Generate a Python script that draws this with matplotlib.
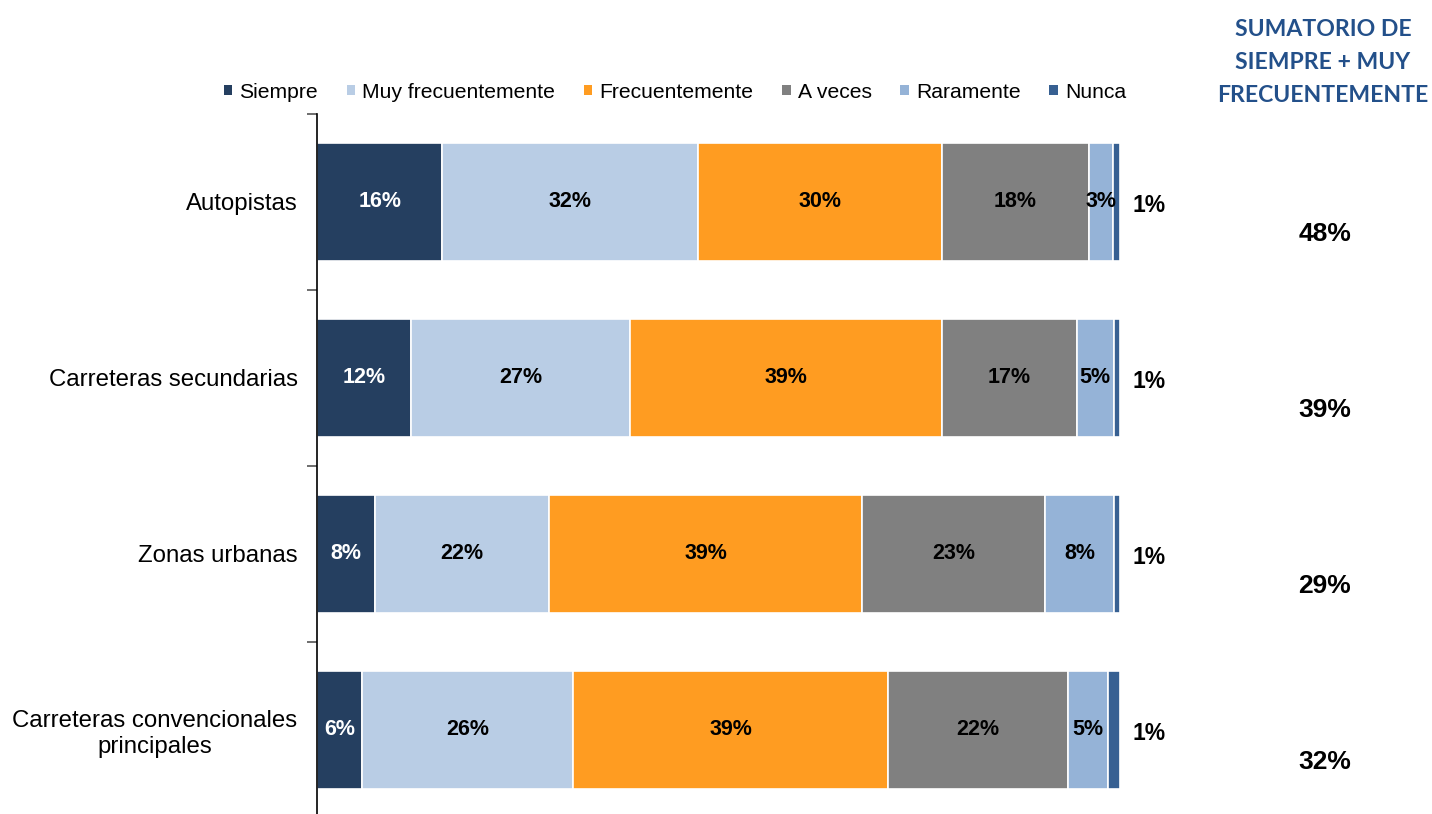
import matplotlib
matplotlib.use("Agg")
import matplotlib.pyplot as plt
from matplotlib.patches import Patch
from matplotlib import font_manager
import numpy as np

categories = ["Autopistas", "Carreteras secundarias", "Zonas urbanas",
              "Carreteras convencionales\nprincipales"]
series_names = ["Siempre", "Muy frecuentemente", "Frecuentemente", "A veces", "Raramente", "Nunca"]
siempre = [15.6, 11.7, 7.2, 5.6]
muy_frecuentemente = [31.8, 27.3, 21.7, 26.3]
frecuentemente = [30.4, 38.8, 39.0, 39.2]
a_veces = [18.3, 16.8, 22.8, 22.4]
raramente = [3.0, 4.6, 8.5, 5.0]
nunca = [0.9, 0.8, 0.8, 1.5]
siempre_lbl = [16, 12, 8, 6]
muy_frecuentemente_lbl = [32, 27, 22, 26]
frecuentemente_lbl = [30, 39, 39, 39]
a_veces_lbl = [18, 17, 23, 22]
raramente_lbl = [3, 5, 8, 5]
nunca_lbl = [1, 1, 1, 1]
sumatorio = [48, 39, 29, 32]

colors = ["#253F60", "#B9CDE5", "#FF9C21", "#808080", "#95B3D7", "#376092"]
values = [siempre, muy_frecuentemente, frecuentemente, a_veces, raramente, nunca]
labels = [siempre_lbl, muy_frecuentemente_lbl, frecuentemente_lbl, a_veces_lbl, raramente_lbl, nunca_lbl]

installed = {f.name for f in font_manager.fontManager.ttflist}
if "Liberation Sans Narrow" in installed:
    inner_family = ["Liberation Sans Narrow", "DejaVu Sans"]
    inner_size = 16.5
else:
    inner_family = ["Liberation Sans", "DejaVu Sans"]
    inner_size = 15.5

W, H = 1432, 814
fig = plt.figure(figsize=(W / 100, H / 100), dpi=100)
ax = fig.add_axes([317 / W, 1 - 818 / H, 803 / W, 704 / H])

y = np.arange(len(categories))
left = np.zeros(len(categories))
for i, (vals, lbls, col) in enumerate(zip(values, labels, colors)):
    vals = np.array(vals)
    ax.barh(y, vals, left=left, height=0.67, color=col, edgecolor="white", linewidth=1.2)
    for j in range(len(categories)):
        if i == len(values) - 1:
            ax.text(left[j] + vals[j] + 3.6, y[j] + 0.02, f"{lbls[j]}%", ha="center", va="center",
                    fontsize=16.5, fontweight="bold", family=["Liberation Sans", "DejaVu Sans"],
                    color="black", clip_on=False)
        else:
            ax.text(left[j] + vals[j] / 2, y[j], f"{lbls[j]}%", ha="center", va="center",
                    fontsize=inner_size, fontweight="bold", family=inner_family,
                    color="white" if i == 0 else "black")
    left += vals

for j in range(len(categories)):
    ax.text(125.5, y[j] + 0.18, f"{sumatorio[j]}%", ha="center", va="center", fontsize=19,
            fontweight="bold", family=["Liberation Sans", "DejaVu Sans"], clip_on=False)

ax.set_xlim(0, 100)
ax.set_ylim(3.5, -0.5)
for s in ["top", "right", "bottom"]:
    ax.spines[s].set_visible(False)
ax.spines["left"].set_linewidth(1.2)
ax.set_xticks([])
ax.set_yticks(y)
ax.set_yticklabels(categories, fontsize=17.3, family=["Liberation Sans", "DejaVu Sans"],
                   multialignment="center")
ax.tick_params(axis="y", which="major", length=0, pad=14)
ax.set_yticks([-0.5, 0.5, 1.5, 2.5, 3.5], minor=True)
ax.tick_params(axis="y", which="minor", length=7, width=1.2, color="#555555", direction="out")

handles = [Patch(facecolor=c, edgecolor="none") for c in colors]
fig.legend(handles, series_names, loc="center", bbox_to_anchor=(675 / W, 1 - 92 / H), ncol=6,
           frameon=False, prop={"family": ["Liberation Sans", "DejaVu Sans"], "size": 15.2},
           handlelength=0.4, handleheight=0.4, handletextpad=0.35, columnspacing=1.35,
           borderpad=0)

fig.text(1323 / W, 1 - 62.5 / H, "SUMATORIO DE\nSIEMPRE + MUY\nFRECUENTEMENTE", ha="center",
         va="center", fontsize=16.6, fontweight="bold", family=["Lato", "DejaVu Sans"],
         color="#23508A", linespacing=1.7)

fig.savefig("out.png", dpi=100)
